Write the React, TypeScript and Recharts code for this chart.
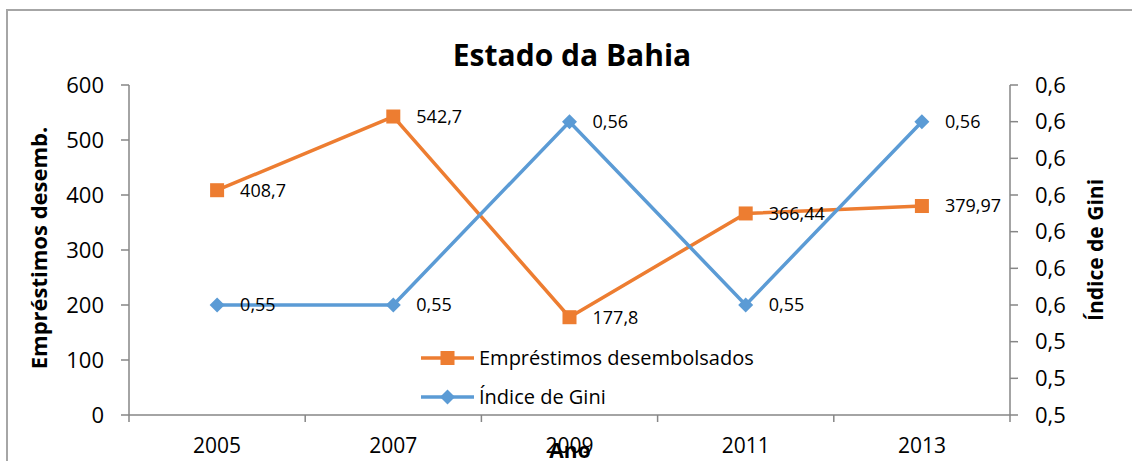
import React from 'react';
import { LineChart, Line, XAxis, YAxis, Legend, Customized } from 'recharts';

const years = ['2005', '2007', '2009', '2011', '2013'];
const emprestimos = [408.7, 542.7, 177.8, 366.44, 379.97];
const gini = [0.55, 0.55, 0.56, 0.55, 0.56];
const leftTicks = [0, 100, 200, 300, 400, 500, 600];
const rightTicks = [0.544, 0.546, 0.548, 0.55, 0.552, 0.554, 0.556, 0.558, 0.56, 0.562];
const rightTickLabels = ['0,5', '0,5', '0,5', '0,6', '0,6', '0,6', '0,6', '0,6', '0,6', '0,6'];
const xTicks = [0, 0.5, 1, 1.5, 2, 2.5, 3, 3.5, 4, 4.5, 5];

const ORANGE = '#ED7D31';
const BLUE = '#5B9BD5';
const AXIS = '#868686';
const FONT = '"Open Sans", "Noto Sans", sans-serif';

const data = years.map((y, i) => ({ pos: i + 0.5, year: y, emp: emprestimos[i], gini: gini[i] }));

const fmt = (v: number) => String(v).replace('.', ',');

const XTick = (props: any) => {
  const { x, y, payload } = props;
  const v = payload.value;
  if (Number.isInteger(v)) {
    return <line x1={x} x2={x} y1={y} y2={y + 7} stroke={AXIS} strokeWidth={1.5} />;
  }
  const idx = Math.floor(v);
  return (
    <text x={x} y={y + 38} textAnchor="middle" fontSize={21} fontFamily={FONT} fill="#000">
      {years[idx]}
    </text>
  );
};

const SquareDot = (p: any) => {
  if (p.cx == null || p.cy == null) return <g key={p.index} />;
  return <rect key={p.index} x={p.cx - 7} y={p.cy - 7} width={14} height={14} fill={ORANGE} />;
};

const DiamondDot = (p: any) => {
  if (p.cx == null || p.cy == null) return <g key={p.index} />;
  const r = 7.5;
  return (
    <polygon
      key={p.index}
      points={`${p.cx},${p.cy - r} ${p.cx + r},${p.cy} ${p.cx},${p.cy + r} ${p.cx - r},${p.cy}`}
      fill={BLUE}
    />
  );
};

const makeLabel = (values: number[]) => (p: any) => {
  const { x, y, index } = p;
  if (x == null || y == null) return null;
  return (
    <text key={index} x={x + 23} y={y} dy="0.35em" fontSize={18} fontFamily={FONT} fill="#000">
      {fmt(values[index])}
    </text>
  );
};

const LegendContent = () => {
  const rows = [
    { name: 'Empréstimos desembolsados', color: ORANGE, shape: 'square' },
    { name: 'Índice de Gini', color: BLUE, shape: 'diamond' },
  ];
  return (
    <div style={{ fontFamily: FONT, fontSize: 20, color: '#000' }}>
      {rows.map((r) => (
        <div key={r.name} style={{ display: 'flex', alignItems: 'center', height: 39 }}>
          <svg width={58} height={20} style={{ display: 'block' }}>
            <line x1={0} x2={53} y1={10} y2={10} stroke={r.color} strokeWidth={3.5} />
            {r.shape === 'square' ? (
              <rect x={19.5} y={3} width={14} height={14} fill={r.color} />
            ) : (
              <polygon points="26.5,2.5 34,10 26.5,17.5 19,10" fill={r.color} />
            )}
          </svg>
          <span style={{ whiteSpace: 'nowrap' }}>{r.name}</span>
        </div>
      ))}
    </div>
  );
};

const Titles = () => (
  <g fontFamily={FONT} fill="#000">
    <text x={572} y={66} textAnchor="middle" fontSize={30} fontWeight="bold">
      Estado da Bahia
    </text>
    <text x={570} y={458} textAnchor="middle" fontSize={21} fontWeight="bold">
      Ano
    </text>
    <text
      x={47}
      y={248}
      textAnchor="middle"
      fontSize={22}
      fontWeight="bold"
      transform="rotate(-90 47 248)"
    >
      Empréstimos desemb.
    </text>
    <text
      x={1103}
      y={250}
      textAnchor="middle"
      fontSize={21}
      fontWeight="bold"
      transform="rotate(-90 1103 250)"
    >
      Índice de Gini
    </text>
  </g>
);

export default function App() {
  return (
    <div
      style={{
        position: 'absolute',
        left: 0,
        top: 0,
        width: 1132,
        height: 461,
        overflow: 'hidden',
        background: '#fff',
      }}
    >
      <div
        style={{
          position: 'absolute',
          left: 6,
          top: 9,
          width: 1300,
          height: 700,
          border: '2px solid #A6A6A6',
          boxSizing: 'border-box',
        }}
      />
      <div style={{ position: 'absolute', left: 0, top: 0 }}>
        <LineChart width={1132} height={461} data={data} margin={{ top: 85, right: 0, bottom: 0, left: 0 }}>
          <XAxis
            dataKey="pos"
            type="number"
            domain={[0, 5]}
            ticks={xTicks}
            interval={0}
            height={46}
            tickSize={0}
            tickMargin={0}
            tickLine={false}
            axisLine={{ stroke: AXIS, strokeWidth: 1.5 }}
            tick={<XTick />}
          />
          <YAxis
            yAxisId="left"
            domain={[0, 600]}
            ticks={leftTicks}
            interval={0}
            width={129}
            tickSize={8}
            tickMargin={17}
            axisLine={{ stroke: AXIS, strokeWidth: 1.5 }}
            tickLine={{ stroke: AXIS, strokeWidth: 1.5 }}
            tick={{ fontSize: 22, fontFamily: FONT, fill: '#000' }}
          />
          <YAxis
            yAxisId="right"
            orientation="right"
            domain={[0.544, 0.562]}
            ticks={rightTicks}
            interval={0}
            width={122}
            tickSize={8}
            tickMargin={17}
            axisLine={{ stroke: AXIS, strokeWidth: 1.5 }}
            tickLine={{ stroke: AXIS, strokeWidth: 1.5 }}
            tick={{ fontSize: 22, fontFamily: FONT, fill: '#000' }}
            tickFormatter={(_v: number, i: number) => rightTickLabels[i]}
          />
          <Line
            yAxisId="left"
            dataKey="emp"
            name="Empréstimos desembolsados"
            stroke={ORANGE}
            strokeWidth={3.5}
            dot={SquareDot}
            activeDot={false}
            label={makeLabel(emprestimos)}
            isAnimationActive={false}
          />
          <Line
            yAxisId="right"
            dataKey="gini"
            name="Índice de Gini"
            stroke={BLUE}
            strokeWidth={3.5}
            dot={DiamondDot}
            activeDot={false}
            label={makeLabel(gini)}
            isAnimationActive={false}
          />
          <Legend
            layout="vertical"
            align="center"
            verticalAlign="middle"
            content={<LegendContent />}
            wrapperStyle={{ left: 421, top: 338, width: 400, height: 80 }}
          />
          <Customized component={Titles} />
        </LineChart>
      </div>
    </div>
  );
}
